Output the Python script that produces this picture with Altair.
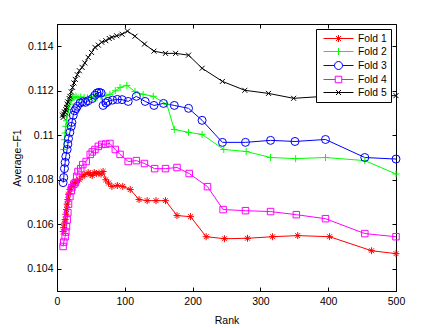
import altair as alt
import pandas as pd

folds = ["Fold 1", "Fold 2", "Fold 3", "Fold 4", "Fold 5"]
colors = ["#ff0000", "#00ff00", "#0000ff", "#ff00ff", "#000000"]

rank_f1 = [9, 10, 11, 12, 13, 14, 15, 16, 17, 19, 21, 23, 25, 27, 30, 33, 37, 41, 46, 49, 52, 55, 58, 62, 65, 68, 72, 76, 81, 89, 97, 108, 121, 133, 146, 160, 177, 197, 220, 247, 281, 318, 355, 402, 464, 500]
val_f1 = [0.10567, 0.10585, 0.10605, 0.10621, 0.10645, 0.10666, 0.10690, 0.10711, 0.10735, 0.10756, 0.10770, 0.10778, 0.10785, 0.10787, 0.10795, 0.10800, 0.10815, 0.10823, 0.10832, 0.10825, 0.10819, 0.10832, 0.10828, 0.10830, 0.10825, 0.10837, 0.10800, 0.10785, 0.10770, 0.10774, 0.10770, 0.10756, 0.10711, 0.10706, 0.10706, 0.10706, 0.10639, 0.10634, 0.10544, 0.10535, 0.10537, 0.10544, 0.10549, 0.10544, 0.10481, 0.10468]

rank_f2 = [10, 11, 12, 13, 14, 15, 17, 19, 21, 23, 25, 28, 31, 35, 40, 45, 50, 55, 59, 65, 72, 78, 86, 93, 103, 115, 127, 142, 162, 173, 194, 214, 246, 279, 315, 352, 396, 454, 500]
val_f2 = [0.10936, 0.10980, 0.11010, 0.11040, 0.11065, 0.11090, 0.11115, 0.11140, 0.11160, 0.11168, 0.11170, 0.11175, 0.11168, 0.11172, 0.11170, 0.11168, 0.11172, 0.11170, 0.11170, 0.11175, 0.11178, 0.11184, 0.11200, 0.11215, 0.11224, 0.11197, 0.11184, 0.11175, 0.11139, 0.11026, 0.11013, 0.11004, 0.10936, 0.10927, 0.10900, 0.10895, 0.10900, 0.10886, 0.10826]

rank_f3 = [9, 10, 11, 12, 13, 15, 16, 17, 19, 21, 22, 24, 26, 28, 30, 34, 38, 42, 46, 52, 56, 59, 62, 65, 68, 72, 75, 82, 89, 96, 105, 117, 130, 143, 157, 173, 194, 214, 244, 278, 315, 351, 396, 454, 500]
val_f3 = [0.10787, 0.10810, 0.10850, 0.10878, 0.10905, 0.10936, 0.10960, 0.10985, 0.11013, 0.11040, 0.11058, 0.11090, 0.11110, 0.11120, 0.11130, 0.11145, 0.11150, 0.11148, 0.11155, 0.11165, 0.11180, 0.11190, 0.11193, 0.11190, 0.11134, 0.11145, 0.11152, 0.11158, 0.11161, 0.11160, 0.11152, 0.11175, 0.11152, 0.11134, 0.11143, 0.11134, 0.11121, 0.11067, 0.10968, 0.10968, 0.10977, 0.10972, 0.10981, 0.10900, 0.10893]

rank_f4 = [9, 10, 12, 13, 14, 15, 16, 17, 19, 21, 22, 25, 27, 29, 31, 35, 38, 43, 49, 52, 56, 61, 66, 72, 78, 86, 93, 105, 117, 129, 144, 160, 177, 195, 222, 245, 278, 315, 353, 396, 454, 500]
val_f4 = [0.10500, 0.10520, 0.10544, 0.10565, 0.10589, 0.10620, 0.10652, 0.10690, 0.10724, 0.10750, 0.10765, 0.10780, 0.10787, 0.10815, 0.10837, 0.10850, 0.10868, 0.10882, 0.10914, 0.10925, 0.10936, 0.10950, 0.10959, 0.10960, 0.10963, 0.10936, 0.10914, 0.10882, 0.10886, 0.10873, 0.10850, 0.10850, 0.10855, 0.10828, 0.10769, 0.10666, 0.10661, 0.10657, 0.10643, 0.10625, 0.10558, 0.10544]

rank_f5 = [8, 9, 10, 11, 12, 13, 14, 15, 16, 18, 19, 21, 23, 25, 27, 30, 33, 37, 41, 46, 51, 56, 61, 66, 72, 77, 81, 88, 96, 104, 115, 129, 143, 160, 175, 194, 214, 244, 277, 312, 349, 395, 500]
val_f5 = [0.11090, 0.11080, 0.11095, 0.11105, 0.11103, 0.11115, 0.11125, 0.11140, 0.11150, 0.11165, 0.11175, 0.11195, 0.11215, 0.11235, 0.11251, 0.11272, 0.11290, 0.11305, 0.11325, 0.11350, 0.11372, 0.11395, 0.11405, 0.11418, 0.11425, 0.11435, 0.11440, 0.11447, 0.11454, 0.11468, 0.11445, 0.11410, 0.11378, 0.11368, 0.11368, 0.11360, 0.11301, 0.11242, 0.11202, 0.11188, 0.11166, 0.11175, 0.11178]

ranks = [rank_f1, rank_f2, rank_f3, rank_f4, rank_f5]
vals = [val_f1, val_f2, val_f3, val_f4, val_f5]

x_ticks = [0, 100, 200, 300, 400, 500]
y_ticks = [0.104, 0.106, 0.108, 0.110, 0.112, 0.114]

marker_shapes = [
    "M-1,0L1,0M0,-1L0,1M-0.7,-0.7L0.7,0.7M-0.7,0.7L0.7,-0.7",
    "M-1,0L1,0M0,-1L0,1",
    "circle",
    "square",
    "M-1,-1L1,1M-1,1L1,-1",
]
marker_sizes = [49, 49, 64, 42, 25]
legend_shapes = [
    "M-3,0L3,0M-0.7,0L0.7,0M0,-0.7L0,0.7M-0.5,-0.5L0.5,0.5M-0.5,0.5L0.5,-0.5",
    "M-3,0L3,0M0,-0.7L0,0.7",
    "M-3,0L-0.8,0M0.8,0L3,0M0.8,0A0.8,0.8 0 1,1 -0.8,0A0.8,0.8 0 1,1 0.8,0",
    "M-3,0L-0.65,0M0.65,0L3,0M-0.65,-0.65L0.65,-0.65L0.65,0.65L-0.65,0.65Z",
    "M-3,0L3,0M-0.5,-0.5L0.5,0.5M-0.5,0.5L0.5,-0.5",
]

rows = []
for name, rs, vs in zip(folds, ranks, vals):
    for r, v in zip(rs, vs):
        rows.append({"Fold": name, "Rank": r, "F1": v})
df = pd.DataFrame(rows)

W, H = 339, 267
FONT = "Liberation Sans"

xscale = alt.Scale(domain=[0, 500], nice=False, zero=False)
yscale = alt.Scale(domain=[0.103, 0.115], nice=False, zero=False)

xaxis = alt.Axis(
    values=x_ticks, title="Rank", ticks=False, tickSize=0,
    grid=True, gridColor="black", gridOpacity=1, gridWidth=1,
    gridDash=[4, H - 8, 4, 3000],
    domainColor="black", domainWidth=1,
    labelFont=FONT, labelFontSize=10.5, labelColor="black", labelPadding=5,
    titleFont=FONT, titleFontSize=10.5, titleFontWeight="normal", titleColor="black",
    titlePadding=9, labelFlush=False,
)
yaxis = alt.Axis(
    values=y_ticks, title="Average\u2212F1", format=".3~f", ticks=False, tickSize=0,
    grid=True, gridColor="black", gridOpacity=1, gridWidth=1,
    gridDash=[4, W - 8, 4, 3000],
    domainColor="black", domainWidth=1,
    labelFont=FONT, labelFontSize=10.5, labelColor="black", labelPadding=4,
    titleFont=FONT, titleFontSize=10.5, titleFontWeight="normal", titleColor="black",
    titlePadding=4, labelFlush=False,
)

layers = []
for i, name in enumerate(folds):
    sub = df[df["Fold"] == name]
    line = alt.Chart(sub).mark_line(color=colors[i], strokeWidth=1).encode(
        x=alt.X("Rank:Q", scale=xscale, axis=xaxis),
        y=alt.Y("F1:Q", scale=yscale, axis=yaxis),
    )
    layers.append(line)
for i, name in enumerate(folds):
    sub = df[df["Fold"] == name]
    pts = alt.Chart(sub).mark_point(
        shape=marker_shapes[i], color=colors[i], filled=False,
        size=marker_sizes[i], strokeWidth=1, opacity=1,
    ).encode(
        x=alt.X("Rank:Q", scale=xscale, axis=xaxis),
        y=alt.Y("F1:Q", scale=yscale, axis=yaxis),
    )
    layers.append(pts)

leg = dict(
    title=None, orient="top-right", offset=5,
    fillColor="white", strokeColor="black", padding=4,
    symbolSize=100, symbolStrokeWidth=1, symbolOffset=13,
    labelOffset=14, labelFont=FONT, labelFontSize=10.3, labelColor="black",
    rowPadding=2,
)
legend_layer = alt.Chart(df).transform_filter("false").mark_point(
    filled=False, opacity=1, strokeWidth=1
).encode(
    x=alt.X("Rank:Q", scale=xscale, axis=xaxis),
    y=alt.Y("F1:Q", scale=yscale, axis=yaxis),
    color=alt.Color("Fold:N", scale=alt.Scale(domain=folds, range=colors), legend=alt.Legend(**leg)),
    shape=alt.Shape("Fold:N", scale=alt.Scale(domain=folds, range=legend_shapes), legend=alt.Legend(**leg)),
)
layers.append(legend_layer)

chart = alt.layer(*layers).properties(
    width=W, height=H,
    autosize=alt.AutoSizeParams(type="none"),
    padding={"left": 49, "top": 16, "right": 30, "bottom": 36},
    background="white",
).configure_view(stroke="black", strokeWidth=1)

chart.save("out.html", embed_options={"renderer": "svg", "actions": False})
